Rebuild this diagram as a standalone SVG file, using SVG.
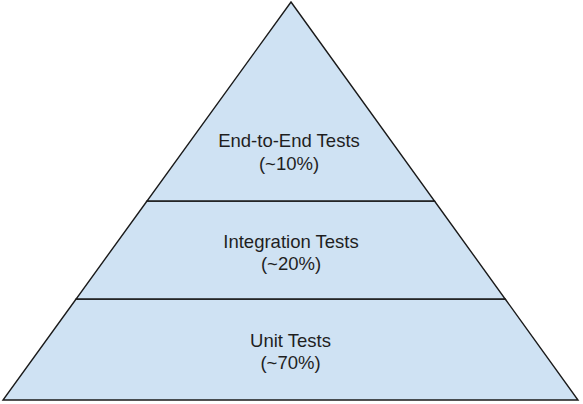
<svg xmlns="http://www.w3.org/2000/svg" width="583" height="404" viewBox="0 0 583 404">
<style>
.layer{fill:#cfe2f3;stroke:#1a1a1a;stroke-width:1.4;stroke-linejoin:miter}
.lbl{font-family:"Liberation Sans",Arial,sans-serif;font-size:18.5px;fill:#1f1f1f;text-anchor:middle}
</style>
<rect width="583" height="404" fill="#ffffff"/>
<g id="unit">
<polygon class="layer" points="76.1,299 505.2,299 578,400 3,400"/>
<text class="lbl" x="290.5" y="347">Unit Tests</text>
<text class="lbl" x="290.5" y="369">(~70%)</text>
</g>
<g id="integration">
<polygon class="layer" points="147,201 434.5,201 505.2,299 76.1,299"/>
<text class="lbl" x="291" y="248">Integration Tests</text>
<text class="lbl" x="291" y="270">(~20%)</text>
</g>
<g id="e2e">
<polygon class="layer" points="291,2 434.5,201 147,201"/>
<text class="lbl" x="289" y="147">End-to-End Tests</text>
<text class="lbl" x="289" y="170">(~10%)</text>
</g>
<g id="connectors"/>
</svg>
